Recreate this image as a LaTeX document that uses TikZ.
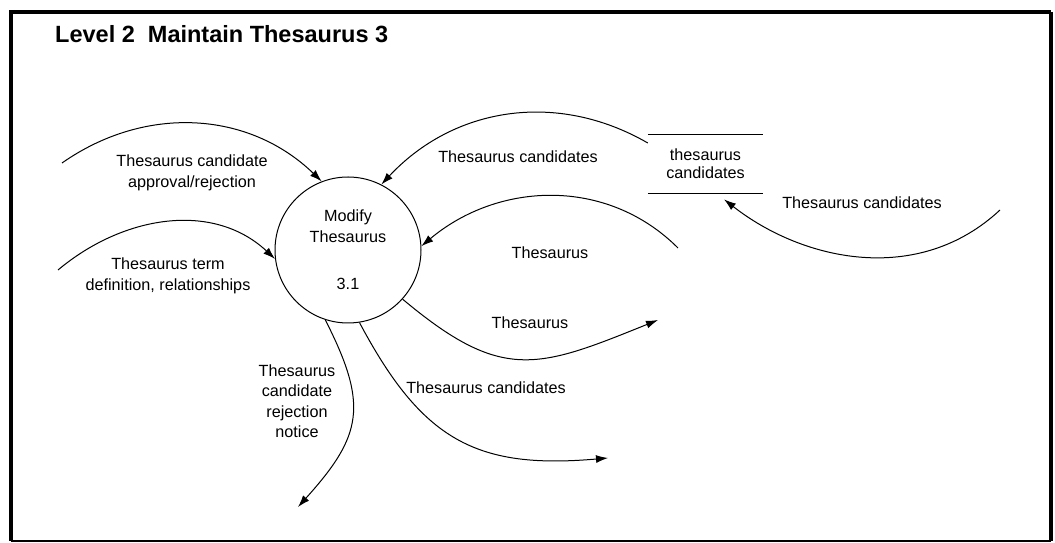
\documentclass[tikz,border=0pt]{standalone}
\usepackage{fontspec}
\setmainfont{Liberation Sans}
\usetikzlibrary{arrows.meta}

\tikzset{
  flow/.style={line width=1pt, -{Latex[length=12pt,width=8pt]}},
  lbl/.style={font=\fontsize{16.2}{20.5}\selectfont, align=center, inner sep=0pt},
  process/.style={circle, draw, line width=1pt, minimum size=146pt, inner sep=0pt, align=center, font=\fontsize{16.2}{20.5}\selectfont},
  datastore/.style={minimum width=115pt, minimum height=58pt, inner sep=0pt, align=center, font=\fontsize{16.2}{18}\selectfont}
}

\begin{document}
\begin{tikzpicture}[x=40pt,y=40pt]
\useasboundingbox (0,0) rectangle (26.375,13.575);

% frame
\draw [line width=4.5pt] (0.275,0.05) -- (0.275,13.275) -- (26.275,13.275);
\draw [line width=3.5pt] (26.275,13.275) -- (26.275,0.05);
\draw [line width=2pt] (0.275,0.05) -- (26.275,0.05);

\node [anchor=base west, inner sep=0pt, font=\fontsize{23.5}{28}\selectfont\bfseries] (title) at (1.375,12.5) {Level 2\ \ Maintain Thesaurus 3};

\node [process] (modify) at (8.7,7.325) {Modify\\Thesaurus\\[27pt]3.1};
\node [datastore] (store) at (17.6375,9.475) {thesaurus\\candidates};
\draw [line width=1pt] (store.north west) -- (store.north east);
\draw [line width=1pt] (store.south west) -- (store.south east);

% free ends
\coordinate (appr) at (1.55,9.5);
\coordinate (term) at (1.45,6.825);
\coordinate (thes) at (16.95,7.375);
\coordinate (cands) at (25.0,8.325);
\coordinate (thesout) at (16.45,5.575);
\coordinate (candout) at (15.2,2.125);
\coordinate (rejout) at (7.45,0.9);

% flows in
\draw [flow] (appr) to [out=35,in=136] (modify.111);
\draw [flow] (term) to [out=40,in=137] (modify.187);
\draw [flow] (store.160) to [out=150,in=47] (modify.63);
\draw [flow] (thes) to [out=135,in=40] (modify.3);
\draw [flow, shorten >=10pt] (cands) to [out=223,in=-38] (store.-70);

% flows out
\draw [flow] (modify.-42) to [out=-40,in=202,looseness=1.3] (thesout);
\draw [flow] (modify.-81) to [out=-62,in=185,looseness=1.2] (candout);
\draw [flow] (modify.-108) to [out=-63,in=48,looseness=1.3] (rejout);

% labels
\node [lbl] (lappr) at (4.8,9.25) {Thesaurus candidate\\approval/rejection};
\node [lbl] (lterm) at (4.2,6.675) {Thesaurus term\\definition, relationships};
\node [lbl] (lcand) at (12.95,9.65) {Thesaurus candidates};
\node [lbl] (lthes) at (13.75,7.25) {Thesaurus};
\node [lbl] (lcands) at (21.55,8.5) {Thesaurus candidates};
\node [lbl] (lthesout) at (13.25,5.5) {Thesaurus};
\node [lbl] (lcandout) at (12.15,3.875) {Thesaurus candidates};
\node [lbl] (lrej) at (7.425,3.55) {Thesaurus\\candidate\\rejection\\notice};
\end{tikzpicture}
\end{document}
